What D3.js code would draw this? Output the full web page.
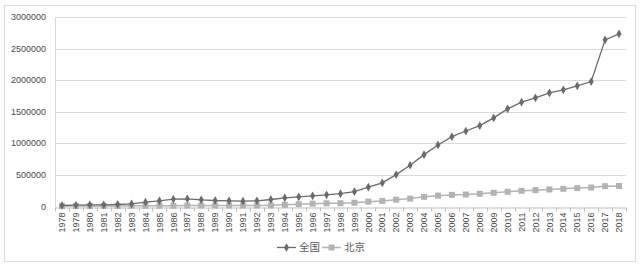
<!DOCTYPE html>
<html lang="zh">
<head>
    <meta charset="UTF-8">
    <title>全国 vs 北京</title>
    <script src="https://d3js.org/d3.v7.min.js"></script>
    <style>
        body {
            margin: 0;
            padding: 0;
            background: #fff;
            font-family: "Liberation Sans", Arial, sans-serif;
        }
        .tick text {
            fill: #4a4a4a;
            font-size: 9px;
        }
        .legend text {
            fill: #595959;
            font-size: 10.5px;
            font-family: "Noto Sans CJK SC", sans-serif;
        }
    </style>
</head>
<body>
    <script>
        // categories and series
        const years = d3.range(1978, 2019).map(String);
        const yTicks = [0, 500000, 1000000, 1500000, 2000000, 2500000, 3000000];
        const national = [
            16000, 21000, 26000, 26000, 32000, 42000, 69000, 90000, 116000, 121000,
            105000, 95000, 90000, 84000, 90000, 111000, 137000, 153000, 169000, 185000,
            203000, 237000, 305000, 374000, 505000, 653000, 821000, 974000, 1105000, 1195000,
            1280000, 1403000, 1546000, 1652000, 1720000, 1799000, 1847000, 1910000, 1978000, 2638000,
            2733000
        ];
        const beijing = [
            6000, 7000, 8000, 8000, 9000, 10000, 11000, 12000, 13000, 14000,
            15000, 15000, 15000, 15000, 16000, 18000, 27000, 36000, 45000, 50000,
            52000, 60000, 77000, 88000, 108000, 125000, 153000, 172000, 184000, 190000,
            201000, 217000, 233000, 248000, 259000, 269000, 280000, 291000, 301000, 322000,
            325000
        ];
        const seriesNames = ['全国', '北京'];

        const width = 640, height = 266;
        const margin = { top: 17, right: 14, bottom: 59.5, left: 55 };

        const svg = d3.select('body').append('svg')
            .attr('width', width)
            .attr('height', height);

        // outer chart frame
        svg.append('rect')
            .attr('x', 4.5).attr('y', 5.5)
            .attr('width', 631).attr('height', 256)
            .attr('fill', '#fff')
            .attr('stroke', '#d9d9d9');

        const x = d3.scaleBand()
            .domain(years)
            .range([margin.left, width - margin.right]);

        const y = d3.scaleLinear()
            .domain([0, 3000000])
            .range([height - margin.bottom, margin.top]);

        // gridlines
        svg.append('g')
            .selectAll('line')
            .data(yTicks.slice(1))
            .enter().append('line')
            .attr('x1', margin.left)
            .attr('x2', width - margin.right)
            .attr('y1', d => Math.round(y(d)) + 0.5)
            .attr('y2', d => Math.round(y(d)) + 0.5)
            .attr('stroke', '#d9d9d9');

        // y axis
        const yAxis = svg.append('g')
            .attr('transform', `translate(${margin.left},0)`)
            .call(d3.axisLeft(y).tickValues(yTicks).tickFormat(d3.format('d')).tickSize(0).tickPadding(9));
        yAxis.select('.domain').remove();
        yAxis.selectAll('.tick').attr('transform', d => `translate(0,${Math.round(y(d)) + 0.5})`);

        // left axis line
        svg.append('line')
            .attr('x1', margin.left + 0.5).attr('x2', margin.left + 0.5)
            .attr('y1', margin.top).attr('y2', Math.round(y(0)) + 0.5)
            .attr('stroke', '#d9d9d9');

        // x axis
        const base = Math.round(y(0)) + 0.5;
        const xAxis = svg.append('g')
            .attr('transform', `translate(0,${base})`)
            .call(d3.axisBottom(x).tickSize(0).tickPadding(4));
        xAxis.select('.domain').attr('stroke', '#bfbfbf');
        xAxis.selectAll('.tick text')
            .attr('transform', 'rotate(-90)')
            .attr('text-anchor', 'end')
            .attr('x', -5)
            .attr('y', 0)
            .attr('dy', '0.35em');

        // category boundary ticks
        svg.append('g')
            .selectAll('line')
            .data(years.concat(['end']))
            .enter().append('line')
            .attr('x1', (d, i) => Math.round(margin.left + i * x.step()) + 0.5)
            .attr('x2', (d, i) => Math.round(margin.left + i * x.step()) + 0.5)
            .attr('y1', base)
            .attr('y2', base + 4)
            .attr('stroke', '#bfbfbf');

        const cx = d => x(d) + x.bandwidth() / 2;
        const line = d3.line()
            .x((d, i) => cx(years[i]))
            .y(d => y(d));

        const natColor = '#6b6b6b';
        const bjColor = '#b3b3b3';

        // Beijing series
        svg.append('path')
            .datum(beijing)
            .attr('fill', 'none')
            .attr('stroke', bjColor)
            .attr('stroke-width', 1.5)
            .attr('d', line);
        svg.append('g')
            .selectAll('rect')
            .data(beijing)
            .enter().append('rect')
            .attr('x', (d, i) => cx(years[i]) - 3)
            .attr('y', d => y(d) - 3)
            .attr('width', 6)
            .attr('height', 6)
            .attr('fill', bjColor);

        // national series
        svg.append('path')
            .datum(national)
            .attr('fill', 'none')
            .attr('stroke', natColor)
            .attr('stroke-width', 1.3)
            .attr('d', line);
        const diamond = d3.symbol().type(d3.symbolDiamond).size(22);
        svg.append('g')
            .selectAll('path')
            .data(national)
            .enter().append('path')
            .attr('d', diamond)
            .attr('transform', (d, i) => `translate(${cx(years[i])},${y(d)})`)
            .attr('fill', natColor);

        // legend
        const legend = svg.append('g').attr('class', 'legend');
        const items = [
            { name: seriesNames[0], color: natColor, x0: 277, sym: 'diamond' },
            { name: seriesNames[1], color: bjColor, x0: 322, sym: 'square' }
        ];
        const ly = 247.5;
        items.forEach(it => {
            legend.append('line')
                .attr('x1', it.x0).attr('x2', it.x0 + 19)
                .attr('y1', ly).attr('y2', ly)
                .attr('stroke', it.color)
                .attr('stroke-width', it.sym === 'square' ? 1.5 : 1.3);
            if (it.sym === 'diamond') {
                legend.append('path')
                    .attr('d', diamond)
                    .attr('transform', `translate(${it.x0 + 9.5},${ly})`)
                    .attr('fill', it.color);
            } else {
                legend.append('rect')
                    .attr('x', it.x0 + 6.5).attr('y', ly - 3)
                    .attr('width', 6).attr('height', 6)
                    .attr('fill', it.color);
            }
            legend.append('text')
                .attr('x', it.x0 + 22)
                .attr('y', ly)
                .attr('dy', '0.35em')
                .text(it.name);
        });
    </script>
</body>
</html>
